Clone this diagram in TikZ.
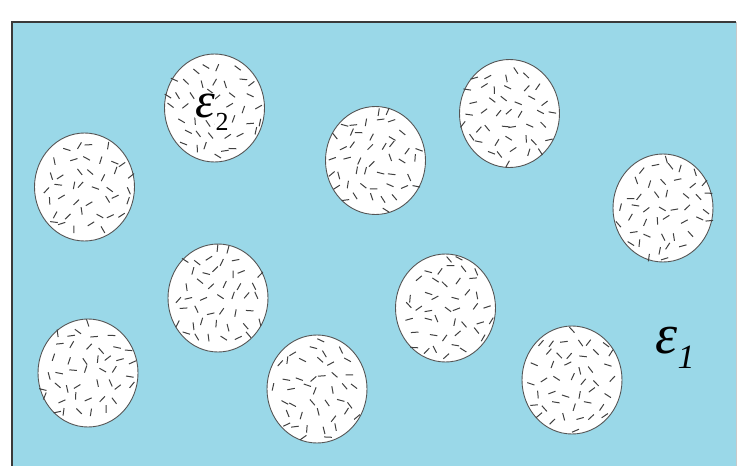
\documentclass[tikz,border=0pt]{standalone}
\usepackage{fontspec}
\setmainfont{Liberation Serif}
\definecolor{seablue}{HTML}{9AD8E8}
\definecolor{frameline}{HTML}{3A3A3A}
\definecolor{edgegray}{HTML}{C8C8C8}
\definecolor{blobline}{HTML}{555555}
\tikzset{
  blob/.style={fill=white, draw=blobline, line width=0.9pt},
  fleck/.style={draw=black!75, line width=1pt},
  lbl/.style={inner sep=0.5pt, anchor=base}
}
\newcommand{\inclusion}[3]{% cx, cy, seed
  \fill[blob] (#1,#2) ellipse [x radius=50, y radius=54];
  \pgfmathsetseed{#3}
  \foreach \ii in {-4,...,4}{
    \foreach \jj in {-4,...,4}{
      \pgfmathsetmacro{\px}{\ii*13.5+mod(\jj+8,2)*6.5+(rnd-0.5)*8}
      \pgfmathsetmacro{\py}{\jj*13+(rnd-0.5)*8}
      \pgfmathsetmacro{\tilt}{rnd*180}
      \pgfmathsetmacro{\inside}{(\px/50)^2+(\py/54)^2<0.93 ? 1 : 0}
      \ifdim\inside pt>0.5pt
        \draw[fleck] ({#1+\px+3.8*cos(\tilt)},{#2+\py+3.8*sin(\tilt)})
          -- ({#1+\px-3.8*cos(\tilt)},{#2+\py-3.8*sin(\tilt)});
      \fi
    }
  }
}
\begin{document}
\begin{tikzpicture}[x=1pt,y=-1pt]
\useasboundingbox (0,0) rectangle (737,466);
\fill[seablue] (12,22) rectangle (736,466);
\draw[edgegray, line width=1pt] (736,22) -- (736,466);
\draw[frameline, line width=2pt] (12,466) -- (12,22) -- (736,22);
\inclusion{214.5}{108}{11}
\inclusion{84.5}{187}{12}
\inclusion{375.5}{160.5}{13}
\inclusion{509.5}{113.5}{14}
\inclusion{663}{208}{15}
\inclusion{218}{298}{16}
\inclusion{445.5}{308}{17}
\inclusion{88}{373}{18}
\inclusion{317}{389}{19}
\inclusion{572}{380}{20}
\node[lbl, fill=white, font=\fontsize{50}{50}\selectfont\itshape] (eps2) at (205,117) {ε};
\node[lbl, fill=white, font=\fontsize{26}{26}\selectfont] (eps2sub) at (222,130) {2};
\node[lbl, font=\fontsize{56}{56}\selectfont\itshape] (eps1) at (667,353) {ε};
\node[lbl, font=\fontsize{34}{34}\selectfont\itshape] (eps1sub) at (686,368) {1};
\end{tikzpicture}
\end{document}
